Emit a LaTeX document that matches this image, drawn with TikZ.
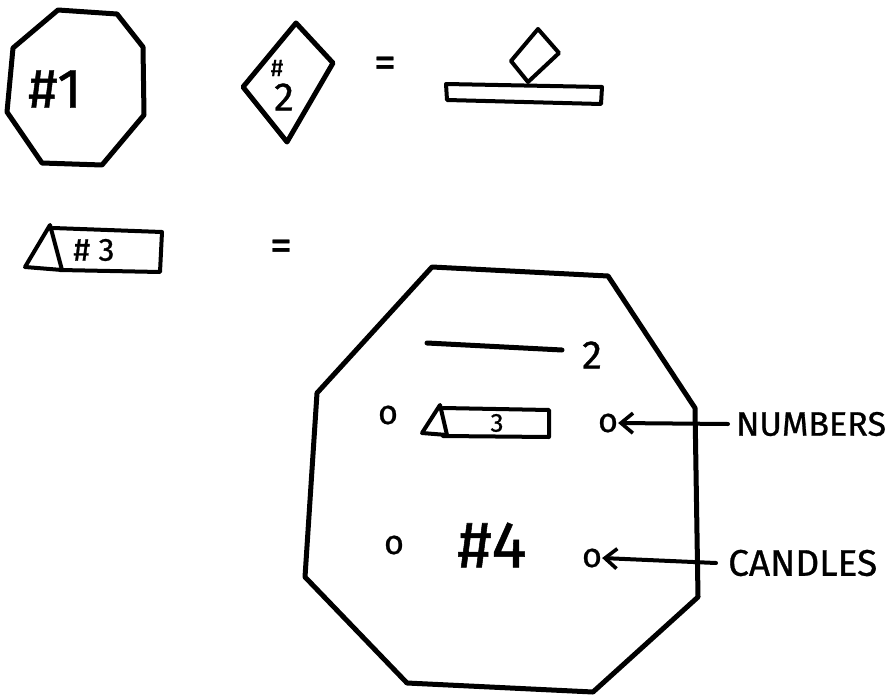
\documentclass[tikz,border=0pt]{standalone}
\usepackage{fontspec}
\setmainfont{Fira Sans}[FakeBold=0.8]
\usetikzlibrary{arrows.meta}
\begin{document}
\begin{tikzpicture}[x=1pt,y=-1pt,
  ink/.style={line width=5pt,line join=round,line cap=round},
  thin ink/.style={line width=4pt,line join=round,line cap=round},
  txt/.style={inner sep=0pt,font=\fontsize{#1}{#1}\selectfont\addfontfeature{FakeBold=0.8}},
  txt/.default=30,
  ptr/.style={line width=4pt,line cap=round,-{Straight Barb[length=12pt,width=20pt,line width=3.6pt]}}]
\useasboundingbox (0,0) rectangle (893,698);
% #1 octagon
\draw[ink] (58,10) -- (117,14) -- (143,47) -- (144,115) -- (102,165) -- (42,163) -- (7,112) -- (13,48) -- cycle;
\node[txt=56] (t1) at (55,89) {\#1};
% #2 diamond
\draw[ink] (296,23) -- (333,63) -- (287,142) -- (243,87) -- cycle;
\node[txt=24] (t2a) at (277,68) {\#};
\node[txt=40] (t2b) at (284,97) {2};
% equals 1
\node[txt=44] (eq1) at (385,67) {=};
% candle holder drawing
\draw[thin ink] (538,29) -- (559,53) -- (528,82) -- (511,61) -- cycle;
\draw[thin ink] (446,84) -- (602,87) -- (601,104) -- (447,100) -- cycle;
% #3 element
\draw[thin ink] (50,225) -- (25,267) -- (62,270) -- cycle;
\draw[thin ink] (53,228) -- (162,232) -- (160,272) -- (60,270);
\node[txt=32] (t3) at (94,250) {\# 3};
% equals 2
\node[txt=44] (eq2) at (281,250) {=};
% big octagon
\draw[ink] (432,267) -- (608,276) -- (695,408) -- (698,597) -- (593,692) -- (407,683) -- (305,577) -- (317,393) -- cycle;
% top line with 2
\draw[ink] (427,343) -- (562,350);
\node[txt=40] (n2) at (592,355) {2};
% row with 3
\node[txt=34] (oL1) at (388,415) {o};
\draw[thin ink] (440,405) -- (422,433) -- (447,435) -- cycle;
\draw[thin ink] (443,408) -- (549,410) -- (549,437) -- (443,436);
\node[txt=26] (n3) at (497,423) {3};
\node[txt=34] (oR1) at (608,423) {o};
% row with #4
\node[txt=34] (oL2) at (394,545) {o};
\node[txt=66] (t4) at (492,545) {\#4};
\node[txt=34] (oR2) at (592,558) {o};
% labels
\node[txt=34,anchor=west] (numbers) at (736,424) {NUMBERS};
\node[txt=37,anchor=west] (candles) at (728,563) {CANDLES};
\draw[ptr] (numbers.west) ++(-8pt,0) -- (oR1.east);
\draw[ptr] (candles.west) ++(-12pt,0) -- (oR2.east);
\end{tikzpicture}
\end{document}
